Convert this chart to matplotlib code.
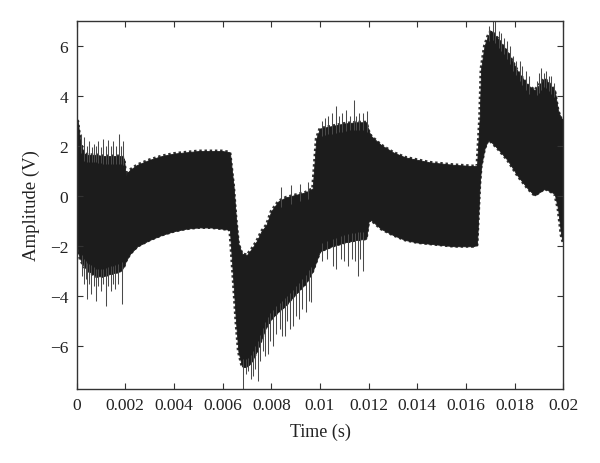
import matplotlib
matplotlib.use("Agg")
import matplotlib.pyplot as plt
import numpy as np

# Envelope of the dense oscillation (time in ms, amplitude in V)
t_env_ms = [0.00, 0.05, 0.15, 0.30, 0.50, 0.80, 1.10, 1.40, 1.80, 1.95, 2.02, 2.20, 2.50,
            3.00, 3.50, 4.00, 4.50, 5.00, 5.50, 6.00, 6.30, 6.45, 6.55, 6.65, 6.80, 7.00,
            7.20, 7.40, 7.60, 7.80, 8.00, 8.30, 8.60, 9.00, 9.40, 9.70, 9.85, 10.00, 10.50,
            11.00, 11.50, 11.90, 12.00, 12.10, 12.50, 13.00, 13.50, 14.00, 14.50, 15.00,
            15.50, 16.30, 16.45, 16.56, 16.62, 16.76, 16.90, 17.03, 17.30, 17.70, 18.13,
            18.54, 18.82, 19.23, 19.64, 19.78, 19.91, 20.00]
upper_env = [3.0, 3.0, 2.2, 1.7, 1.65, 1.65, 1.6, 1.6, 1.6, 1.5, 0.85, 1.05, 1.25,
             1.45, 1.6, 1.7, 1.75, 1.8, 1.8, 1.8, 1.75, 0.4, -0.9, -1.9, -2.3, -2.35,
             -2.1, -1.8, -1.4, -1.15, -0.6, -0.2, -0.05, 0.05, 0.15, 0.3, 2.3, 2.7, 2.8,
             2.9, 2.95, 2.95, 2.6, 2.4, 2.05, 1.75, 1.55, 1.45, 1.35, 1.3,
             1.25, 1.2, 1.2, 3.1, 5.1, 6.0, 6.4, 6.6, 6.3, 5.77, 4.97,
             4.43, 4.23, 4.7, 4.23, 3.4, 3.1, 3.1]
lower_env = [-1.4, -2.2, -2.5, -2.8, -3.0, -3.2, -3.2, -3.1, -3.0, -2.8, -2.6, -2.3, -2.0,
             -1.75, -1.55, -1.4, -1.3, -1.25, -1.25, -1.3, -1.35, -3.5, -5.0, -6.2, -6.8, -6.8,
             -6.6, -6.2, -5.7, -5.2, -4.9, -4.6, -4.35, -3.9, -3.5, -3.0, -2.6, -2.2, -2.0,
             -1.85, -1.75, -1.7, -1.0, -0.95, -1.3, -1.55, -1.75, -1.85, -1.9, -1.95,
             -2.0, -2.0, -1.95, 0.43, 1.2, 1.9, 2.23, 2.17, 1.9, 1.45, 0.8,
             0.3, 0.03, 0.3, 0.1, -0.5, -1.57, -1.9]

# Isolated spikes (time in ms, peak in V)
spike_up_ms = [0.20, 0.30, 0.42, 0.50, 0.62, 0.70, 0.82, 0.90, 1.02, 1.10, 1.22, 1.30,
               1.42, 1.50, 1.62, 1.75, 1.82, 1.90,
               8.40, 8.80, 9.20, 9.50,
               10.10, 10.20, 10.35, 10.50, 10.64, 10.78, 10.90, 11.07, 11.22, 11.40,
               11.50, 11.60, 11.75, 11.92,
               16.95, 17.10, 17.20, 17.35, 17.45, 17.55, 17.70, 17.80, 17.95, 18.05,
               18.20, 18.30, 18.45, 18.60, 18.90, 19.00, 19.10, 19.20, 19.30, 19.40,
               19.50, 19.60]
spike_up_v = [2.5, 2.35, 2.0, 2.2, 1.95, 2.1, 2.0, 2.2, 1.95, 2.3, 2.0, 2.25,
              2.0, 2.2, 2.0, 2.5, 2.0, 2.2,
              0.35, 0.45, 0.5, 0.55,
              3.0, 3.1, 3.2, 3.3, 3.6, 3.2, 3.3, 3.43, 3.2, 3.83,
              3.2, 3.3, 3.3, 3.4,
              6.8, 7.1, 7.0, 6.6, 6.5, 6.3, 6.2, 6.0, 5.6, 5.4,
              5.4, 5.2, 5.0, 4.8, 4.6, 4.9, 5.1, 4.9, 5.0, 4.8,
              4.8, 4.5]
spike_dn_ms = [0.22, 0.30, 0.38, 0.45, 0.52, 0.60, 0.70, 0.80, 0.90, 1.00, 1.08, 1.20,
               1.30, 1.40, 1.50, 1.60, 1.72, 1.85,
               6.85, 6.95, 7.05, 7.15, 7.25, 7.35, 7.45, 7.55, 7.65, 7.75, 7.85, 7.95,
               8.07, 8.20, 8.36, 8.45, 8.56, 8.66, 8.77, 8.88, 9.00,
               9.15, 9.28, 9.43, 9.55, 9.63,
               10.10, 10.30, 10.52, 10.66, 10.85, 11.00, 11.14, 11.30, 11.42, 11.55,
               11.65, 11.75]
spike_dn_v = [-3.2, -3.5, -3.3, -4.1, -3.5, -3.9, -3.6, -4.2, -3.6, -3.8, -3.5, -4.4,
              -3.6, -3.8, -3.5, -3.7, -3.5, -4.3,
              -7.7, -7.1, -7.0, -7.3, -7.2, -6.9, -7.37, -6.6, -6.2, -6.4, -6.3, -5.8,
              -6.0, -5.5, -5.3, -5.6, -5.6, -5.0, -5.3, -5.17, -4.8,
              -4.9, -4.5, -4.63, -4.2, -4.23,
              -2.6, -2.5, -2.77, -2.9, -2.5, -2.6, -2.77, -2.5, -2.6, -3.17,
              -2.5, -3.0]

x_ticks = [0, 0.002, 0.004, 0.006, 0.008, 0.01, 0.012, 0.014, 0.016, 0.018, 0.02]
x_tick_labels = ["0", "0.002", "0.004", "0.006", "0.008", "0.01", "0.012",
                 "0.014", "0.016", "0.018", "0.02"]
y_ticks = [-6, -4, -2, 0, 2, 4, 6]

plt.rcParams['font.family'] = ['Liberation Serif', 'DejaVu Serif']

fig = plt.figure(figsize=(6.0, 4.64), dpi=100)
ax = fig.add_axes([0.1275, 0.1595, 0.8115, 0.7935])

t_env = np.array(t_env_ms) / 1000.0
col = '#1c1c1c'
ax.fill_between(t_env, lower_env, upper_env, color=col, linewidth=0.6, edgecolor=col)
# fine comb texture of the oscillation crests along both envelopes
for env in (upper_env, lower_env):
    ax.plot(t_env, env, color=col, linewidth=2.2, dashes=(0.8, 0.9),
            solid_capstyle='butt', dash_capstyle='butt', alpha=0.9)

tu = np.array(spike_up_ms) / 1000.0
td = np.array(spike_dn_ms) / 1000.0
ax.vlines(tu, np.interp(tu, t_env, upper_env) - 0.3, spike_up_v,
          color='#4a4a4a', linewidth=0.75)
ax.vlines(td, spike_dn_v, np.interp(td, t_env, lower_env) + 0.3,
          color='#4a4a4a', linewidth=0.75)

ax.set_xlim(0, 0.02)
ax.set_ylim(-7.7, 7.0)
ax.set_xticks(x_ticks)
ax.set_xticklabels(x_tick_labels)
ax.set_yticks(y_ticks)
ax.tick_params(direction='in', top=True, right=True, length=4, width=0.8,
               colors='#333333', labelsize=12.5, labelcolor='#222222', pad=6)
for s in ax.spines.values():
    s.set_color('#333333')
    s.set_linewidth(1.0)

ax.set_xlabel('Time (s)', fontsize=13, color='#222222', labelpad=7)
ax.set_ylabel('Amplitude (V)', fontsize=13.5, color='#222222', labelpad=7)

fig.savefig('out.png', dpi=100)
